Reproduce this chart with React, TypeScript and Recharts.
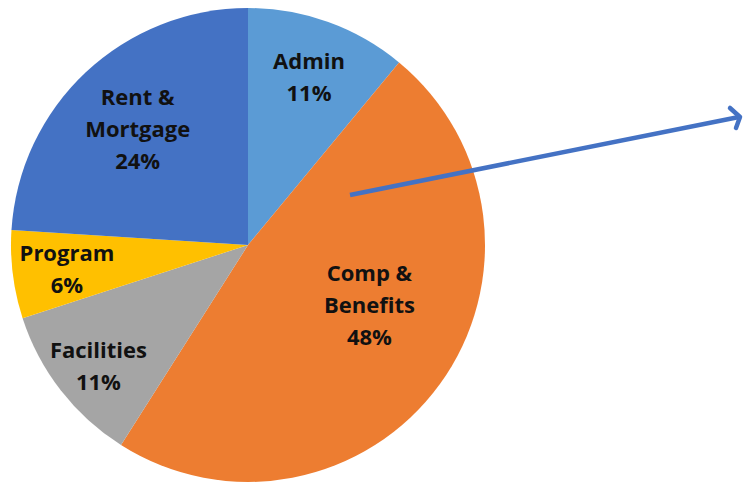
import { PieChart, Pie, Cell } from "recharts";

const categories = ["Admin", "Comp & Benefits", "Facilities", "Program", "Rent & Mortgage"];
const shares = [11, 48, 11, 6, 24];
const sliceColors = ["#5B9BD5", "#ED7D31", "#A5A5A5", "#FFC000", "#4472C4"];
// label text split over lines, as in the original
const labelLines = [["Admin"], ["Comp &", "Benefits"], ["Facilities"], ["Program"], ["Rent &", "Mortgage"]];

const data = categories.map((name, i) => ({ name, value: shares[i] }));

// where each label sits, as a fraction of the radius and a nudge off the mid angle
const labelRadius = [0.76, 0.57, 0.81, 0.77, 0.68];
const labelAngleShift = [0, 10, 1, 0, 0];

const RADIAN = Math.PI / 180;

const renderLabel = (props: any) => {
  const { cx, cy, midAngle, outerRadius, index, value } = props;
  const r = outerRadius * labelRadius[index];
  const a = midAngle + labelAngleShift[index];
  const x = cx + r * Math.cos(-a * RADIAN);
  const y = cy + r * Math.sin(-a * RADIAN);
  const lines = [...labelLines[index], `${value}%`];
  const lh = 32;
  return (
    <g>
      {lines.map((t, i) => (
        <text
          key={i}
          x={x}
          y={y + (i - (lines.length - 1) / 2) * lh}
          textAnchor="middle"
          dominantBaseline="central"
          fill="#111"
          fontFamily="'Open Sans', sans-serif"
          fontWeight="bold"
          fontSize={22}
        >
          {t}
        </text>
      ))}
    </g>
  );
};

const App = () => {
  return (
    <div style={{ position: "absolute", left: 0, top: 0, width: 745, height: 482, background: "#fff" }}>
      <PieChart width={745} height={482} margin={{ top: 0, right: 0, bottom: 0, left: 0 }}>
        <Pie
          data={data}
          dataKey="value"
          cx={248}
          cy={245}
          outerRadius={237}
          startAngle={90}
          endAngle={-270}
          stroke="none"
          labelLine={false}
          label={renderLabel}
          isAnimationActive={false}
        >
          {data.map((d, i) => (
            <Cell key={d.name} fill={sliceColors[i]} />
          ))}
        </Pie>
      </PieChart>
      <svg width={745} height={482} style={{ position: "absolute", left: 0, top: 0, pointerEvents: "none" }}>
        <line x1={350} y1={195} x2={739} y2={117} stroke="#4472C4" strokeWidth={4.5} />
        <polyline
          points="730,108 740,117 736,128"
          fill="none"
          stroke="#4472C4"
          strokeWidth={4.5}
          strokeLinecap="round"
          strokeLinejoin="round"
        />
      </svg>
    </div>
  );
};

export default App;
